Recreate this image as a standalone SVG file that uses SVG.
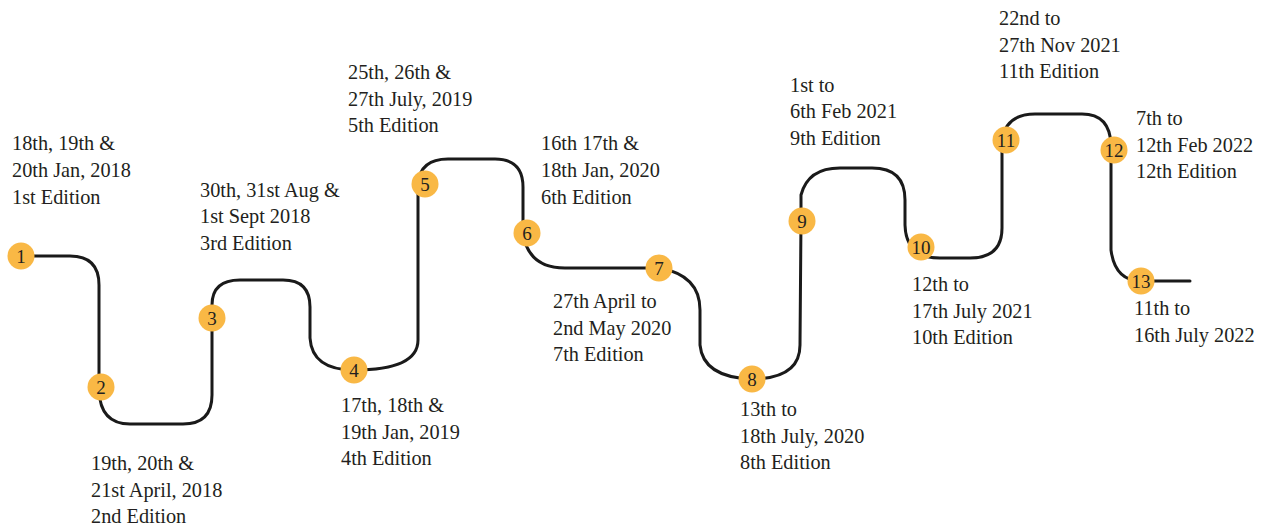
<svg xmlns="http://www.w3.org/2000/svg" width="1263" height="527" viewBox="0 0 1263 527">
<style>
.lbl{font-family:"Liberation Serif","Times New Roman",serif;font-size:20.3px;fill:#231f20}
.num{font-family:"Liberation Serif","Times New Roman",serif;font-size:19px;fill:#231f20;text-anchor:middle}
.dot{fill:#f9b845}
.line{fill:none;stroke:#1a1a1a;stroke-width:3;stroke-linecap:round;stroke-linejoin:round}
</style>
<rect width="1263" height="527" fill="#ffffff"/>
<g id="connectors">
<path class="line" d="M21,256 L70,256 Q99,256 99,285 L99,390 Q100,424 130,424 L183,424 Q212,424 212,395 L212,305 Q212,280 240,280 L283,280 Q310,280 310,307 L310,338 Q312,370 354,370 Q418,370 418,340 L418,184 Q420,159 448,159 L495,159 Q523,159 523,187 L523,233 Q528,268 565,268 L659,268 Q700,275 700,310 L700,345 Q703,377 751,379 Q800,379 800,345 L801,220 L801,195 Q808,168 840,168 L872,168 Q905,168 905,200 L905,225 Q906,258 940,258 L970,258 Q1002,258 1002,228 L1002,140 Q1006,114 1035,114 L1082,114 Q1110,114 1111,145 L1111,250 Q1115,281 1141,281 L1190,281"/>
</g>
<g id="node1"><circle class="dot" cx="21" cy="256" r="13.5"/><text class="num" x="21" y="262.5">1</text>
<text class="lbl" x="12" y="150">18th, 19th &amp;</text><text class="lbl" x="12" y="177">20th Jan, 2018</text><text class="lbl" x="12" y="204">1st Edition</text></g>
<g id="node2"><circle class="dot" cx="101" cy="387" r="13.5"/><text class="num" x="101" y="393.5">2</text>
<text class="lbl" x="91" y="470">19th, 20th &amp;</text><text class="lbl" x="91" y="497">21st April, 2018</text><text class="lbl" x="91" y="523">2nd Edition</text></g>
<g id="node3"><circle class="dot" cx="212" cy="318" r="13.5"/><text class="num" x="212" y="324.5">3</text>
<text class="lbl" x="200" y="197">30th, 31st Aug &amp;</text><text class="lbl" x="200" y="223">1st Sept 2018</text><text class="lbl" x="200" y="250">3rd Edition</text></g>
<g id="node4"><circle class="dot" cx="354" cy="370" r="13.5"/><text class="num" x="354" y="376.5">4</text>
<text class="lbl" x="341" y="412">17th, 18th &amp;</text><text class="lbl" x="341" y="439">19th Jan, 2019</text><text class="lbl" x="341" y="465">4th Edition</text></g>
<g id="node5"><circle class="dot" cx="425" cy="184" r="13.5"/><text class="num" x="425" y="190.5">5</text>
<text class="lbl" x="348" y="79">25th, 26th &amp;</text><text class="lbl" x="348" y="106">27th July, 2019</text><text class="lbl" x="348" y="132">5th Edition</text></g>
<g id="node6"><circle class="dot" cx="527" cy="233" r="13.5"/><text class="num" x="527" y="239.5">6</text>
<text class="lbl" x="541" y="150">16th 17th &amp;</text><text class="lbl" x="541" y="177">18th Jan, 2020</text><text class="lbl" x="541" y="204">6th Edition</text></g>
<g id="node7"><circle class="dot" cx="659" cy="268" r="13.5"/><text class="num" x="659" y="274.5">7</text>
<text class="lbl" x="553" y="308">27th April to</text><text class="lbl" x="553" y="335">2nd May 2020</text><text class="lbl" x="553" y="361">7th Edition</text></g>
<g id="node8"><circle class="dot" cx="752" cy="379" r="13.5"/><text class="num" x="752" y="385.5">8</text>
<text class="lbl" x="740" y="416">13th to</text><text class="lbl" x="740" y="443">18th July, 2020</text><text class="lbl" x="740" y="469">8th Edition</text></g>
<g id="node9"><circle class="dot" cx="802" cy="221" r="13.5"/><text class="num" x="802" y="227.5">9</text>
<text class="lbl" x="790" y="92">1st to</text><text class="lbl" x="790" y="118">6th Feb 2021</text><text class="lbl" x="790" y="145">9th Edition</text></g>
<g id="node10"><circle class="dot" cx="921" cy="247" r="13.5"/><text class="num" x="921" y="253.5">10</text>
<text class="lbl" x="912" y="291">12th to</text><text class="lbl" x="912" y="318">17th July 2021</text><text class="lbl" x="912" y="344">10th Edition</text></g>
<g id="node11"><circle class="dot" cx="1006" cy="140" r="13.5"/><text class="num" x="1006" y="146.5">11</text>
<text class="lbl" x="999" y="25">22nd to</text><text class="lbl" x="999" y="52">27th Nov 2021</text><text class="lbl" x="999" y="78">11th Edition</text></g>
<g id="node12"><circle class="dot" cx="1114" cy="150" r="13.5"/><text class="num" x="1114" y="156.5">12</text>
<text class="lbl" x="1136" y="125">7th to</text><text class="lbl" x="1136" y="152">12th Feb 2022</text><text class="lbl" x="1136" y="178">12th Edition</text></g>
<g id="node13"><circle class="dot" cx="1141" cy="281" r="13.5"/><text class="num" x="1141" y="287.5">13</text>
<text class="lbl" x="1134" y="315">11th to</text><text class="lbl" x="1134" y="342">16th July 2022</text></g>
</svg>
